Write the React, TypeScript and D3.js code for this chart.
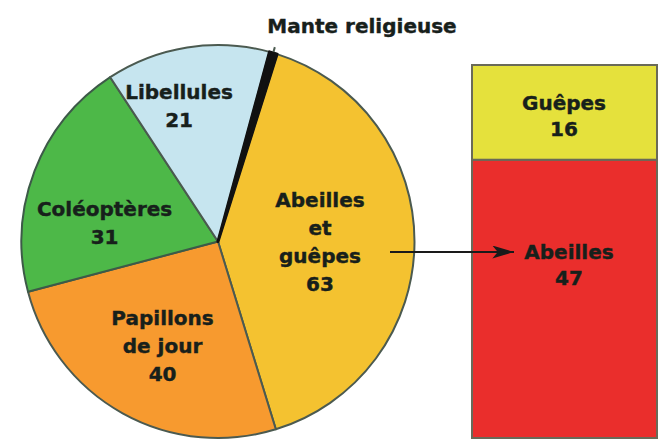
import React from "react";
import * as d3 from "d3";

// Pie data (clockwise from the top-right)
const pieCategories = ["Abeilles et guêpes", "Papillons de jour", "Coléoptères", "Libellules", "Mante religieuse"];
const pieValues = [63, 40, 31, 21, 1];
const pieLabelLines = [["Abeilles", "et", "guêpes", "63"], ["Papillons", "de jour", "40"], ["Coléoptères", "31"], ["Libellules", "21"], []];

// Breakdown bar
const barCategories = ["Abeilles", "Guêpes"];
const barValues = [47, 16];

// styling / layout (not data)
const pieColors = ["#f4c230", "#f79a2f", "#4db848", "#c6e5ef", "#111111"];
const pieStrokes = ["#4b5a50", "#4b5a50", "#3d5a48", "#4b5a50", "#111111"];
const pieStrokeW = [2, 2, 2, 2, 3];
const barColors = ["#ea2e2c", "#e5e13c"];
const labelLayout = [
  { dAngle: 0, r: 102 },
  { dAngle: -1, r: 118 },
  { dAngle: -11.5, r: 115 },
  { dAngle: -7, r: 141 },
  { dAngle: 0, r: 0 },
];

const W = 660, H = 443;
const cx = 218, cy = 241.5, R = 196.5;
const FONT = "'DejaVu Sans', sans-serif";
const TEXT = "#17201b";

export default function App() {
  const deg = Math.PI / 180;
  const pie = d3.pie<number>().sort(null).startAngle(17.5 * deg).endAngle(17.5 * deg + 2 * Math.PI);
  const arcs = pie(pieValues);
  const arc = d3.arc<d3.PieArcDatum<number>>().innerRadius(0).outerRadius(R);

  const y = d3.scaleLinear().domain([0, d3.sum(barValues)]).range([438, 65]);
  const stack = d3.stack<any>().keys(barCategories)([Object.fromEntries(barCategories.map((c, i) => [c, barValues[i]]))]);
  const bx0 = 472, bx1 = 657;
  const lh = 28;

  return (
    <svg width={W} height={H} style={{ position: "absolute", left: 0, top: 0, background: "#fff" }}>
      <defs>
        <marker id="ah" viewBox="0 0 20 12" refX="20" refY="6" markerWidth="22" markerHeight="13" markerUnits="userSpaceOnUse" orient="auto">
          <path d="M0,0 L20,6 L0,12 L5,6 Z" fill="#1a1a1a" />
        </marker>
      </defs>
      <g transform={`translate(${cx},${cy})`}>
        {arcs.map((a, i) => (
          <path key={pieCategories[i]} d={arc(a) || ""} fill={pieColors[i]} stroke={pieStrokes[i]} strokeWidth={pieStrokeW[i]} strokeLinejoin="round" />
        ))}
        {arcs.map((a, i) => {
          const lines = pieLabelLines[i];
          if (!lines.length) return null;
          const ang = (a.startAngle + a.endAngle) / 2 + labelLayout[i].dAngle * deg;
          const r = labelLayout[i].r;
          const x = r * Math.sin(ang), yy = -r * Math.cos(ang);
          const top = yy - ((lines.length - 1) * lh) / 2;
          return (
            <text key={"l" + i} x={x} textAnchor="middle" fontFamily={FONT} fontWeight="bold" fontSize={20} fill={TEXT} stroke={TEXT} strokeWidth={0.4}>
              {lines.map((t, k) => (
                <tspan key={k} x={x} y={top + k * lh} dominantBaseline="central">{t}</tspan>
              ))}
            </text>
          );
        })}
      </g>
      {/* Mante religieuse label */}
      <line x1={cx + (R + 1) * Math.sin(16.3 * deg)} y1={cy - (R + 1) * Math.cos(16.3 * deg)} x2={cx + (R + 6) * Math.sin(16.3 * deg)} y2={cy - (R + 6) * Math.cos(16.3 * deg)} stroke="#4b5a50" strokeWidth={2} />
      <text x={362} y={26} textAnchor="middle" dominantBaseline="central" fontFamily={FONT} fontWeight="bold" fontSize={20} fill={TEXT} stroke={TEXT} strokeWidth={0.4}>
        {pieCategories[4]}
      </text>

      {/* breakdown bar */}
      {stack.map((s, i) => {
        const seg = s[0];
        const yTop = y(seg[1]), yBot = y(seg[0]);
        return (
          <rect key={barCategories[i]} x={bx0} y={yTop} width={bx1 - bx0} height={yBot - yTop} fill={barColors[i]} stroke="#6a6a58" strokeWidth={2} />
        );
      })}
      {stack.map((s, i) => {
        const seg = s[0];
        const yTop = y(seg[1]), yBot = y(seg[0]);
        const mid = i === 0 ? yTop + 105 : (yTop + yBot) / 2 + 4;
        const xm = i === 0 ? 569 : 564;
        return (
          <text key={"b" + i} textAnchor="middle" fontFamily={FONT} fontWeight="bold" fontSize={20} fill={TEXT} stroke={TEXT} strokeWidth={0.4}>
            <tspan x={xm} y={mid - 13} dominantBaseline="central">{barCategories[i]}</tspan>
            <tspan x={xm} y={mid + 13} dominantBaseline="central">{barValues[i]}</tspan>
          </text>
        );
      })}
      {/* arrow */}
      <line x1={390} y1={252} x2={514} y2={252} stroke="#1a1a1a" strokeWidth={2} markerEnd="url(#ah)" />
    </svg>
  );
}
